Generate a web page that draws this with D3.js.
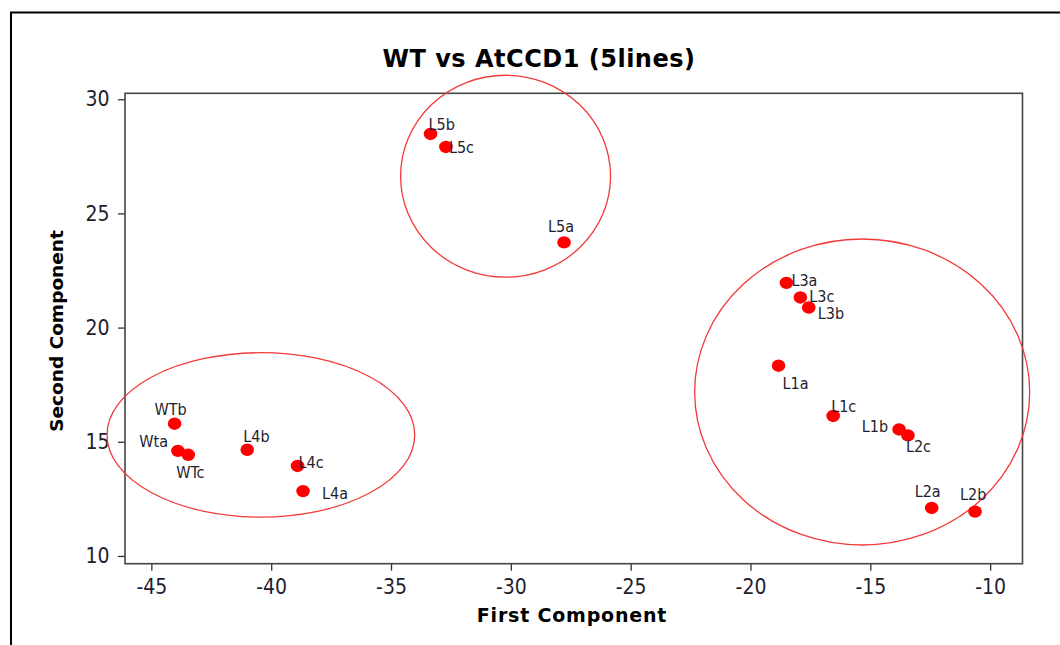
<!DOCTYPE html>
<html>
<head>
<meta charset="utf-8">
<script src="https://cdn.jsdelivr.net/npm/d3@7"></script>
<style>
  html, body { margin: 0; padding: 0; background: #fff; }
  svg { display: block; }
</style>
</head>
<body>
<svg id="chart" width="1060" height="645"></svg>
<script>
// ---- data ----
const title = "WT vs AtCCD1 (5lines)";
const xLabel = "First Component";
const yLabel = "Second Component";
const names = ["WTb","Wta","WTc","L4b","L4c","L4a","L5b","L5c","L5a","L3a","L3c","L3b","L1a","L1c","L1b","L2c","L2a","L2b"];
const firstComp = [-44.03,-43.89,-43.46,-41.0,-38.9,-38.67,-33.35,-32.71,-27.78,-18.5,-17.92,-17.57,-18.83,-16.55,-13.8,-13.43,-12.44,-10.63];
const secondComp = [15.79,14.60,14.43,14.65,13.94,12.84,28.48,27.91,23.73,21.96,21.32,20.88,18.33,16.13,15.54,15.28,12.10,11.94];
const xTicks = [-45,-40,-35,-30,-25,-20,-15,-10];
const yTicks = [10,15,20,25,30];
// group ellipses: centre (x,y) and radii in data units
const ellipseCx = [-40.43,-30.22,-15.34];
const ellipseCy = [15.30,26.63,17.18];
const ellipseRx = [6.42,4.38,6.99];
const ellipseRy = [3.60,4.42,6.70];

// ---- layout (label placement, px relative to point) ----
const labelOffsets = {
  WTb:[-4,-9,"middle"], Wta:[-10,-4,"end"], WTc:[-12,23,"start"],
  L4b:[-4,-8,"start"], L4c:[1,2,"start"], L4a:[19,8,"start"],
  L5b:[-2,-4,"start"], L5c:[3,6,"start"], L5a:[-16,-10,"start"],
  L3a:[5,3,"start"], L3c:[9,5,"start"], L3b:[9,12,"start"],
  L1a:[4,23,"start"], L1c:[-2,-4,"start"], L1b:[-11,3,"end"],
  L2c:[-2,17,"start"], L2a:[-17,-11,"start"], L2b:[-15,-12,"start"]
};

const svg = d3.select("#chart");
const pLeft = 125, pRight = 1022.5, pTop = 93.3, pBottom = 563.7;
const x = d3.scaleLinear().domain([-46.1,-8.65]).range([pLeft,pRight]);
const y = d3.scaleLinear().domain([9.66,30.26]).range([pBottom,pTop]);

const tickFont = "'DejaVu Sans Condensed','DejaVu Sans',sans-serif";
const textColor = "#1e1e30";

// outer border
svg.append("path")
  .attr("d","M11,650 L11,12.5 L1065,12.5")
  .attr("fill","none").attr("stroke","#000").attr("stroke-width",2);

// title
svg.append("text").attr("x",539).attr("y",67).attr("text-anchor","middle")
  .attr("font-family","'DejaVu Sans',sans-serif").attr("font-weight","bold")
  .attr("font-size",24).attr("letter-spacing",0.5).attr("fill","#000").text(title);

// axes
const xAxis = d3.axisBottom(x).tickValues(xTicks).tickSize(7).tickPadding(8).tickFormat(d3.format("d"));
const yAxis = d3.axisLeft(y).tickValues(yTicks).tickSize(7).tickPadding(8.5).tickFormat(d3.format("d"));

const gx = svg.append("g").attr("transform",`translate(0,${pBottom})`).call(xAxis);
const gy = svg.append("g").attr("transform",`translate(${pLeft},0)`).call(yAxis);
[gx,gy].forEach(g=>{
  g.select(".domain").remove();
  g.selectAll(".tick line").attr("stroke","#333").attr("stroke-width",1.3);
  g.selectAll(".tick text").attr("font-family",tickFont).attr("font-size",21).attr("fill",textColor)
    .text(d => d < 0 ? "-" + Math.abs(d) : d);
});

// plot frame
svg.append("rect").attr("x",pLeft).attr("y",pTop).attr("width",pRight-pLeft).attr("height",pBottom-pTop)
  .attr("fill","none").attr("stroke","#444").attr("stroke-width",1.6);

// axis titles
svg.append("text").attr("x",572).attr("y",622).attr("text-anchor","middle")
  .attr("font-family","'DejaVu Sans',sans-serif").attr("font-weight","bold")
  .attr("font-size",19).attr("letter-spacing",0.8).attr("fill","#000").text(xLabel);
svg.append("text").attr("transform","translate(63,331) rotate(-90)").attr("text-anchor","middle")
  .attr("font-family","'DejaVu Sans',sans-serif").attr("font-weight","bold")
  .attr("font-size",18.5).attr("fill","#000").text(yLabel);

// ellipses
const ell = ellipseCx.map((cx,i)=>({cx, cy:ellipseCy[i], rx:ellipseRx[i], ry:ellipseRy[i]}));
const kx = x(1)-x(0), ky = y(0)-y(1);
svg.append("g").selectAll("ellipse").data(ell).join("ellipse")
  .attr("cx",d=>x(d.cx)).attr("cy",d=>y(d.cy))
  .attr("rx",d=>d.rx*kx).attr("ry",d=>d.ry*ky)
  .attr("fill","none").attr("stroke","#f23a3a").attr("stroke-width",1.3);

// points
const pts = names.map((n,i)=>({name:n, fx:firstComp[i], sy:secondComp[i]}));
svg.append("g").selectAll("ellipse").data(pts).join("ellipse")
  .attr("cx",d=>x(d.fx)).attr("cy",d=>y(d.sy)).attr("rx",6.8).attr("ry",6.2)
  .attr("fill","#ff0000");

// labels
svg.append("g").selectAll("text").data(pts).join("text")
  .attr("x",d=>x(d.fx)+labelOffsets[d.name][0])
  .attr("y",d=>y(d.sy)+labelOffsets[d.name][1])
  .attr("text-anchor",d=>labelOffsets[d.name][2])
  .attr("font-family",tickFont).attr("font-size",16).attr("fill",textColor)
  .text(d=>d.name);
</script>
</body>
</html>
